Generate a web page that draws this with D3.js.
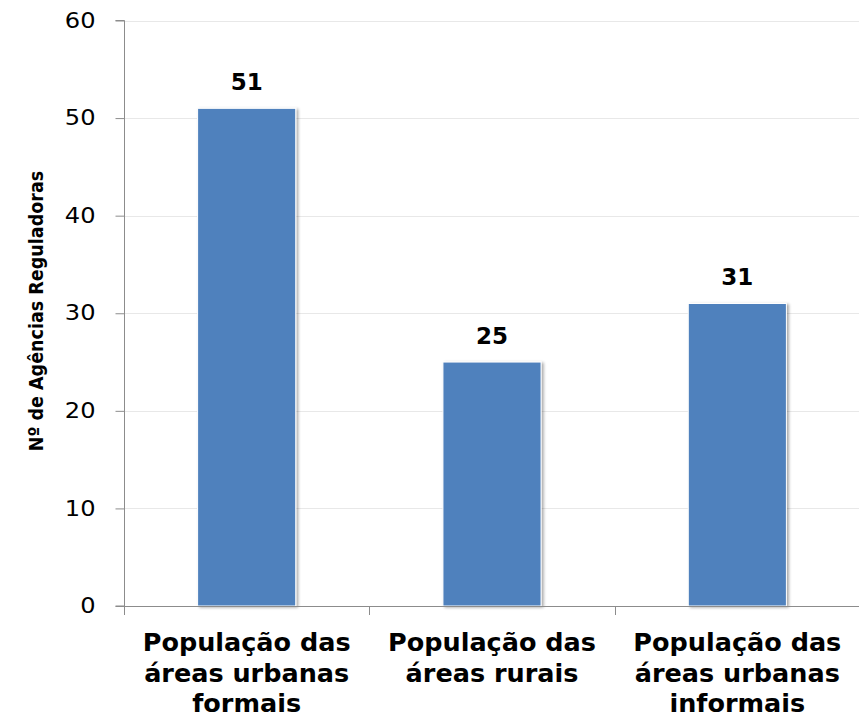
<!DOCTYPE html>
<html>
<head>
<meta charset="utf-8">
<script src="https://cdn.jsdelivr.net/npm/d3@7"></script>
<style>
  html, body { margin: 0; padding: 0; background: #fff; }
  svg { display: block; }
</style>
</head>
<body>
<svg id="chart" width="859" height="715"></svg>
<script>
// Number of regulatory agencies by population group served
const categories = [
  ["População das", "áreas urbanas", "formais"],
  ["População das", "áreas rurais"],
  ["População das", "áreas urbanas", "informais"]
];
const values = [51, 25, 31];
const yTicks = [0, 10, 20, 30, 40, 50, 60];
const yTitle = "Nº de Agências Reguladoras";

const svg = d3.select("#chart");
const plotLeft = 124, plotRight = 860, plotTop = 20.5, plotBase = 606;

const x = d3.scaleBand()
  .domain(d3.range(values.length))
  .range([plotLeft, plotRight])
  .paddingInner(0.6)
  .paddingOuter(0.3);

const y = d3.scaleLinear()
  .domain([0, 60])
  .range([plotBase, plotTop]);

// gridlines
svg.append("g")
  .selectAll("line")
  .data(yTicks.filter(d => d > 0))
  .join("line")
  .attr("x1", plotLeft).attr("x2", plotRight)
  .attr("y1", d => Math.round(y(d)) + 0.5).attr("y2", d => Math.round(y(d)) + 0.5)
  .attr("stroke", "#e8e8e8").attr("stroke-width", 1);

// soft drop shadow for the bars
const defs = svg.append("defs");
const f = defs.append("filter").attr("id", "shadow")
  .attr("x", "-20%").attr("y", "-20%").attr("width", "140%").attr("height", "140%");
f.append("feGaussianBlur").attr("in", "SourceAlpha").attr("stdDeviation", 1.5).attr("result", "b");
f.append("feOffset").attr("in", "b").attr("dx", 1.5).attr("dy", 1).attr("result", "o");
f.append("feComponentTransfer").attr("in", "o").attr("result", "s")
  .append("feFuncA").attr("type", "linear").attr("slope", 0.35);
const m = f.append("feMerge");
m.append("feMergeNode").attr("in", "s");
m.append("feMergeNode").attr("in", "SourceGraphic");

svg.append("g")
  .selectAll("rect")
  .data(values)
  .join("rect")
  .attr("x", (d, i) => x(i))
  .attr("y", d => y(d))
  .attr("width", x.bandwidth())
  .attr("height", d => y(0) - y(d))
  .attr("fill", "#4F81BD")
  .attr("stroke", "#ffffff")
  .attr("stroke-width", 1)
  .attr("filter", "url(#shadow)");

// value labels
svg.append("g")
  .selectAll("text")
  .data(values)
  .join("text")
  .attr("x", (d, i) => x(i) + x.bandwidth() / 2)
  .attr("y", d => y(d) - 18)
  .attr("text-anchor", "middle")
  .attr("font-family", "'DejaVu Sans', Verdana, sans-serif")
  .attr("font-weight", "bold")
  .attr("font-size", 23)
  .attr("fill", "#000")
  .text(d => d);

// y axis
const sx = 1.15; // slightly widened tick numerals
const yAxis = d3.axisLeft(y).tickValues(yTicks).tickSize(9).tickPadding(0);
const gy = svg.append("g")
  .attr("transform", `translate(${plotLeft + 0.5},0)`)
  .call(yAxis);
gy.select(".domain").attr("stroke", "#8c8c8c").attr("d", `M-9,${y(60)}H0V${y(0)}H-9`);
gy.selectAll(".tick line").attr("stroke", "#8c8c8c");
gy.selectAll(".tick text")
  .attr("x", -29 / sx)
  .attr("transform", `scale(${sx},1)`)
  .attr("font-family", "'DejaVu Sans', Verdana, sans-serif")
  .attr("font-size", 21)
  .attr("fill", "#000");

// x axis line and category separators
const xAxisG = svg.append("g");
xAxisG.append("line")
  .attr("x1", plotLeft).attr("x2", plotRight)
  .attr("y1", y(0) + 0.5).attr("y2", y(0) + 0.5)
  .attr("stroke", "#8c8c8c");
const bounds = d3.range(values.length + 1).map(i => plotLeft + i * (plotRight - plotLeft) / values.length);
xAxisG.selectAll("line.sep")
  .data(bounds)
  .join("line")
  .attr("class", "sep")
  .attr("x1", d => Math.round(d) + 0.5).attr("x2", d => Math.round(d) + 0.5)
  .attr("y1", y(0)).attr("y2", y(0) + 9)
  .attr("stroke", "#8c8c8c");

// category labels
const cat = svg.append("g")
  .selectAll("text")
  .data(categories)
  .join("text")
  .attr("x", (d, i) => x(i) + x.bandwidth() / 2)
  .attr("y", 651)
  .attr("text-anchor", "middle")
  .attr("font-family", "'DejaVu Sans', Verdana, sans-serif")
  .attr("font-weight", "bold")
  .attr("font-size", 25.5)
  .attr("fill", "#000");
cat.selectAll("tspan")
  .data(d => d)
  .join("tspan")
  .attr("x", function () { return d3.select(this.parentNode).attr("x"); })
  .attr("dy", (d, i) => i === 0 ? 0 : 30.5)
  .text(d => d);

// y axis title
svg.append("text")
  .attr("transform", `translate(43,311) rotate(-90)`)
  .attr("text-anchor", "middle")
  .attr("font-family", "'Liberation Sans Narrow', 'DejaVu Sans Condensed', 'Open Sans', sans-serif")
  .attr("font-stretch", "condensed")
  .attr("font-weight", "bold")
  .attr("font-size", 19.5)
  .attr("fill", "#000")
  .text(yTitle);
</script>
</body>
</html>
